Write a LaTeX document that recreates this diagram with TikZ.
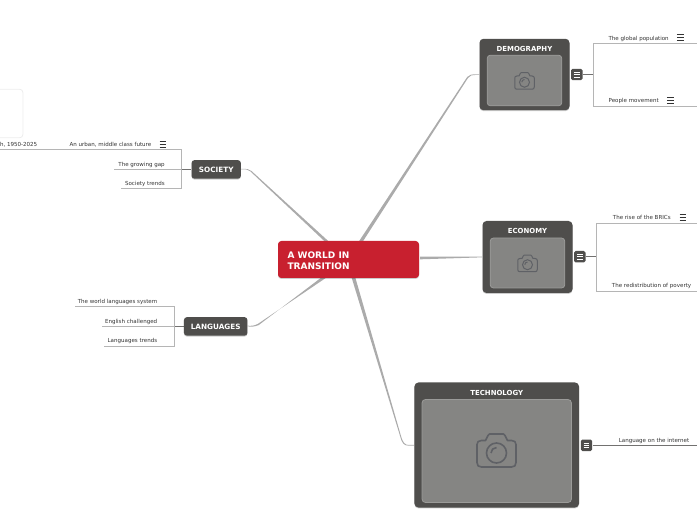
\documentclass[tikz,border=0pt]{standalone}
\usepackage{fontspec}
\setmainfont{DejaVu Sans}
\usetikzlibrary{shadows,backgrounds}
\definecolor{nodedark}{HTML}{4F4E4C}
\definecolor{inner}{HTML}{858583}
\definecolor{innerline}{HTML}{9B9B99}
\definecolor{camline}{HTML}{5F6166}
\definecolor{rootred}{HTML}{C8202F}
\definecolor{conn}{HTML}{ABABAB}
\definecolor{branch}{HTML}{B5B5B5}
\definecolor{leaftext}{HTML}{333333}
\tikzset{
  softshadow/.style={drop shadow={shadow xshift=0pt,shadow yshift=-.7pt,opacity=.2,fill=black}},
  topic/.style={rectangle,rounded corners=2.2pt,fill=nodedark,text=white,font=\bfseries\fontsize{5.45}{6}\selectfont,inner sep=0pt,softshadow},
  container/.style={rectangle,rounded corners=3pt,fill=nodedark,inner sep=0pt,softshadow},
  photo/.style={rectangle,rounded corners=2.5pt,fill=inner,draw=innerline,line width=.6pt,inner sep=0pt},
  heading/.style={text=white,font=\bfseries\fontsize{5.2}{6}\selectfont,inner sep=0pt},
  leaf/.style={text=leaftext,font=\fontsize{4.15}{5}\selectfont,inner sep=0pt},
  button/.style={rectangle,rounded corners=1.2pt,fill=nodedark,minimum width=8.6pt,minimum height=8.6pt,inner sep=0pt},
  branchline/.style={draw=branch,line width=.6pt},
  stemline/.style={draw=nodedark!80,line width=.6pt},
  conntaper/.style={fill=conn},
  menuglyph/.pic={
    \draw[pic actions,line width=.35pt] (-3.4,-3)--(3.4,-3) (-3.4,0)--(3.4,0) (-3.4,3)--(3.4,3);
  },
  btnglyph/.pic={
    \draw[white,line width=.4pt] (-2.9,-2.4)--(2.9,-2.4) (-2.9,0)--(2.9,0) (-2.9,2.4)--(2.9,2.4);
  },
  cameraglyph/.pic={
    \draw[camline,line width=\pgfkeysvalueof{/tikz/camwidth},line join=round]
      (-15,-10) -- (-11,-10) -- (-8.5,-15) -- (-7,-16.5) -- (7,-16.5) -- (8.5,-15) -- (11,-10) -- (15,-10)
      .. controls (18,-10) and (19.5,-8.5) .. (19.5,-6) -- (19.5,12) .. controls (19.5,15) and (18,16.5) .. (15,16.5)
      -- (-15,16.5) .. controls (-18,16.5) and (-19.5,15) .. (-19.5,12) -- (-19.5,-6)
      .. controls (-19.5,-8.5) and (-18,-10) .. (-15,-10) -- cycle;
    \draw[camline,line width=\pgfkeysvalueof{/tikz/camwidth}] (0,2.5) circle[radius=10];
    \draw[camline,line width=\pgfkeysvalueof{/tikz/camwidth}] (-5.5,2.5) .. controls (-5.5,-.5) and (-3,-3) .. (0,-3);
  },
  camwidth/.initial=1.2pt
}
\begin{document}
\begin{tikzpicture}[x=.75pt,y=-.75pt]
\useasboundingbox (0,0) rectangle (697,520);
\clip (0,0) rectangle (697,520);

% faint empty image box
\node[rectangle,rounded corners=2.5pt,draw=black!7,fill=white,line width=.6pt,minimum width=60pt,minimum height=36.5pt,inner sep=0pt,anchor=east] (blank) at (23.3,113.5) {};

% root
\node[rectangle,rounded corners=2.5pt,fill=rootred,minimum width=105.75pt,minimum height=27.75pt,inner sep=0pt,softshadow] (root) at (348.5,259.5) {};
\node[text=white,font=\bfseries\fontsize{6.75}{8.2}\selectfont,align=left,anchor=west,inner sep=0pt] (roottext) at (287.3,260.5) {A WORLD IN\\TRANSITION};

% containers
\node[container,minimum width=67.5pt,minimum height=53.6pt] (demo) at (524.5,74.5) {};
\node[photo,minimum width=56pt,minimum height=38pt] (demophoto) at (524.5,80.5) {};
\node[heading] (demotitle) at (524.5,48.7) {DEMOGRAPHY};
\pic[scale=.5,camwidth=.75pt] at (524.5,81) {cameraglyph};

\node[container,minimum width=67.5pt,minimum height=54pt] (econ) at (527.5,257) {};
\node[photo,minimum width=56pt,minimum height=37.5pt] (econphoto) at (527.5,263) {};
\node[heading] (econtitle) at (527.5,231) {ECONOMY};
\pic[scale=.5,camwidth=.75pt] at (527.5,263.5) {cameraglyph};

\node[container,minimum width=123.4pt,minimum height=93.8pt] (tech) at (496.75,445) {};
\node[photo,minimum width=112pt,minimum height=77.2pt] (techphoto) at (496.75,451) {};
\node[heading] (techtitle) at (496.75,392.5) {TECHNOLOGY};
\pic[scale=1,camwidth=1.2pt] at (496.5,450.5) {cameraglyph};

% topics
\node[topic,minimum width=37pt,minimum height=13.9pt] (society) at (216.2,169.4) {SOCIETY};
\node[topic,minimum width=47.6pt,minimum height=13.9pt] (languages) at (215.7,326.4) {LANGUAGES};

% buttons
\node[button] (demobtn) at (576.8,74.5) {};
\pic at (576.8,74.5) {btnglyph};
\node[button] (econbtn) at (579.8,256.7) {};
\pic at (579.8,256.7) {btnglyph};
\node[button] (techbtn) at (586.5,445.3) {};
\pic at (586.5,445.3) {btnglyph};

% leaf labels
\node[leaf,anchor=east] (pop) at (669,38.6) {The global population};
\node[leaf,anchor=east] (move) at (659,101.3) {People movement};
\node[leaf,anchor=east] (brics) at (671,217.5) {The rise of the BRICs};
\node[leaf,anchor=east] (poverty) at (691.5,285.5) {The redistribution of poverty};
\node[leaf,anchor=east] (internet) at (689.5,440.5) {Language on the internet};
\node[leaf,anchor=east] (urbanmid) at (151.5,144.5) {An urban, middle class future};
\node[leaf,anchor=east] (urbanold) at (37.5,144.5) {h, 1950-2025};
\node[leaf,anchor=east] (gap) at (165,164.5) {The growing gap};
\node[leaf,anchor=east] (strends) at (165,183.5) {Society trends};
\node[leaf,anchor=east] (worldlang) at (157.5,301.5) {The world languages system};
\node[leaf,anchor=east] (english) at (157.5,321.5) {English challenged};
\node[leaf,anchor=east] (ltrends) at (157.5,340.5) {Languages trends};

% note glyphs
\pic[draw=leaftext] at (680.3,37.3) {menuglyph};
\pic[draw=leaftext] at (670.3,100.3) {menuglyph};
\pic[draw=leaftext] at (683,217) {menuglyph};
\pic[draw=leaftext] at (163,144) {menuglyph};

% free ends and branch joints
\coordinate (rpop) at (697,43);
\coordinate (rmove) at (697,106);
\coordinate (rbrics) at (697,223);
\coordinate (rpov) at (697,291);
\coordinate (rnet) at (697,445.3);
\coordinate (lsoc1) at (0,149.5);
\coordinate (lsoc2) at (114,169.4);
\coordinate (lsoc3) at (121,188.5);
\coordinate (llang1) at (75,306.5);
\coordinate (llang2) at (102,326.4);
\coordinate (llang3) at (104,346);
\coordinate (jdemo) at (593,74.5);
\coordinate (jecon) at (596,256.7);
\coordinate (jsoc) at (181.5,169.4);
\coordinate (jlang) at (174.5,326.4);

\begin{scope}[on background layer]
  % tapered connectors from the root
  \coordinate (rootA) at (360,243);
  \coordinate (rootB) at (328,243);
  \coordinate (rootC) at (420,258);
  \coordinate (rootD) at (353,276);
  \coordinate (rootE) at (326,276);
  \fill[conntaper] ([xshift=-1.6pt]rootA) -- (467.2,77) .. controls (469.5,74.3) and (471,74.2) .. (demo.west)
     -- ([yshift=-.3pt]demo.west) .. controls (471,75) and (470,75.2) .. (468,78) -- ([xshift=1.4pt]rootA) -- cycle;
  \fill[conntaper] ([yshift=1pt]rootC) -- ([yshift=.25pt]econ.west) -- ([yshift=-.25pt]econ.west) -- ([yshift=-1pt]rootC) -- cycle;
  \fill[conntaper] ([xshift=-1.4pt]rootD) -- ([xshift=1.4pt]rootD) -- (401,436) .. controls (403,443) and (405,445) .. (409,445) -- (tech.west)
     -- ([yshift=-.4pt]tech.west) -- (409,445.7) .. controls (404,445.7) and (402,443.5) .. (400.2,436.5) -- cycle;
  \fill[conntaper] ([xshift=1.8pt]rootB) -- ([xshift=-1.2pt]rootB) -- (250.5,171.5) .. controls (248,169.4) and (246,169.2) .. (society.east)
     -- ([yshift=.3pt]society.east) .. controls (247,168.7) and (249,169) .. (251.5,171) -- cycle;
  \fill[conntaper] ([xshift=2pt]rootE) -- ([xshift=-2pt]rootE) -- (258.8,325) .. controls (254,326.9) and (252,326.8) .. (languages.east)
     -- ([yshift=.5pt]languages.east) .. controls (252,325.9) and (254,325.9) .. (258,323.8) -- cycle;

  % branches
  \draw[branchline] (rpop) -- (593,43) -- (593,106) -- (rmove);
  \draw[stemline] (demobtn) -- (jdemo);
  \draw[branchline] (rbrics) -- (596,223) -- (596,291) -- (rpov);
  \draw[stemline] (econbtn) -- (jecon);
  \draw[stemline] (techbtn) -- (rnet);
  \draw[branchline] (lsoc1) -- (181.5,149.5) -- (181.5,188.5) -- (lsoc3);
  \draw[branchline] (lsoc2) -- (jsoc);
  \draw[stemline] (jsoc) -- (society);
  \draw[branchline] (llang1) -- (174.5,306.5) -- (174.5,346) -- (llang3);
  \draw[branchline] (llang2) -- (jlang);
  \draw[stemline] (jlang) -- (languages);
\end{scope}
\end{tikzpicture}
\end{document}
